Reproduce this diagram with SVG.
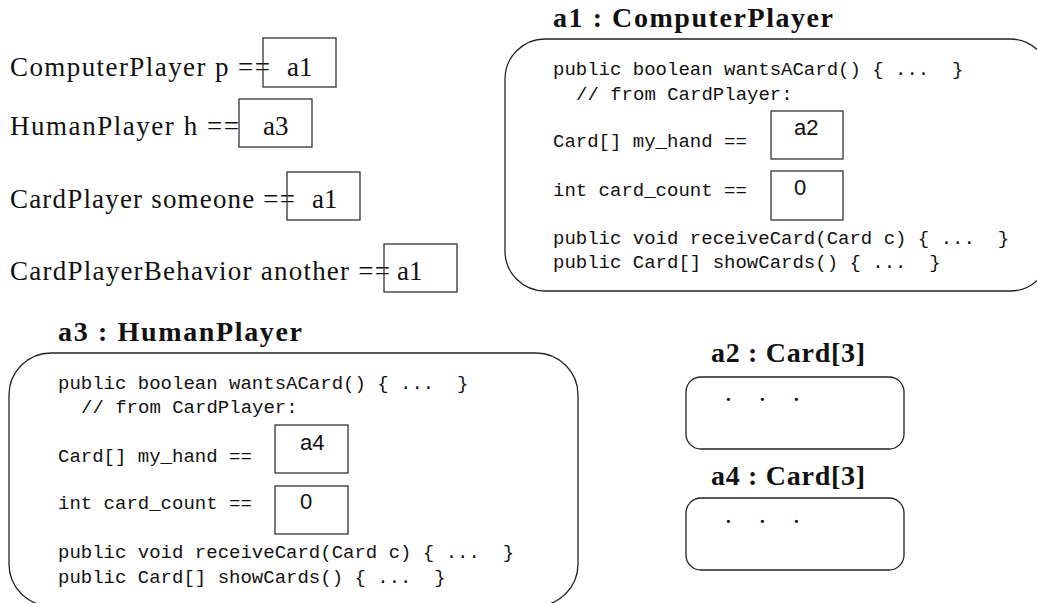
<svg xmlns="http://www.w3.org/2000/svg" width="1037" height="603" viewBox="0 0 1037 603">
<style>
.sr{font-family:"Liberation Serif","Times New Roman",serif;font-size:27px;fill:#111}
.bt{font-family:"Liberation Serif","Times New Roman",serif;font-size:28px;font-weight:bold;fill:#111}
.mo{font-family:"Liberation Mono","Courier New",monospace;font-size:19px;fill:#111;white-space:pre}
.sa{font-family:"Liberation Sans",Arial,sans-serif;font-size:22px;fill:#111}
.box{fill:none;stroke:#333;stroke-width:1.3}
.obj{fill:none;stroke:#222;stroke-width:1.3}
</style>
<rect width="1037" height="603" fill="#fff"/>
<g id="var-p">
<text class="sr" x="10" y="76" textLength="260">ComputerPlayer p ==</text>
<rect class="box" x="263" y="38" width="73" height="49"/>
<text class="sr" x="287" y="76">a1</text>
</g>
<g id="var-h">
<text class="sr" x="10" y="135" textLength="229">HumanPlayer h ==</text>
<rect class="box" x="239" y="99" width="73" height="48"/>
<text class="sr" x="263" y="135">a3</text>
</g>
<g id="var-someone">
<text class="sr" x="10" y="208" textLength="285">CardPlayer someone ==</text>
<rect class="box" x="287" y="172" width="73" height="48"/>
<text class="sr" x="312" y="208">a1</text>
</g>
<g id="var-another">
<text class="sr" x="10" y="280" textLength="380">CardPlayerBehavior another ==</text>
<rect class="box" x="384" y="244" width="73" height="48"/>
<text class="sr" x="397" y="280">a1</text>
</g>
<g id="obj-a1">
<text class="bt" x="553" y="27" textLength="280">a1 : ComputerPlayer</text>
<rect class="obj" x="505" y="39" width="545" height="252" rx="40" ry="40"/>
<text class="mo" x="553" y="75">public boolean wantsACard() { ...  }</text>
<text class="mo" x="576" y="100">// from CardPlayer:</text>
<text class="mo" x="553" y="147">Card[] my_hand ==</text>
<rect class="box" x="771" y="111" width="72" height="48"/>
<text class="sa" x="794" y="135">a2</text>
<text class="mo" x="553" y="196">int card_count ==</text>
<rect class="box" x="771" y="171" width="72" height="49"/>
<text class="sa" x="794" y="195">0</text>
<text class="mo" x="553" y="244">public void receiveCard(Card c) { ...  }</text>
<text class="mo" x="553" y="268">public Card[] showCards() { ...  }</text>
</g>
<g id="obj-a3">
<text class="bt" x="58" y="341" textLength="244">a3 : HumanPlayer</text>
<rect class="obj" x="9" y="353" width="569" height="253" rx="42" ry="42"/>
<text class="mo" x="58" y="389">public boolean wantsACard() { ...  }</text>
<text class="mo" x="81" y="413">// from CardPlayer:</text>
<text class="mo" x="58" y="462">Card[] my_hand ==</text>
<rect class="box" x="275" y="425" width="73" height="48"/>
<text class="sa" x="300" y="450">a4</text>
<text class="mo" x="58" y="509">int card_count ==</text>
<rect class="box" x="275" y="486" width="73" height="48"/>
<text class="sa" x="300" y="509">0</text>
<text class="mo" x="58" y="558">public void receiveCard(Card c) { ...  }</text>
<text class="mo" x="58" y="583">public Card[] showCards() { ...  }</text>
</g>
<g id="arr-a2">
<text class="bt" x="711" y="362" textLength="154">a2 : Card[3]</text>
<rect class="obj" x="686" y="377" width="218" height="72" rx="15" ry="15"/>
<text class="sr" x="725 759 793" y="401">...</text>
</g>
<g id="arr-a4">
<text class="bt" x="711" y="485" textLength="154">a4 : Card[3]</text>
<rect class="obj" x="686" y="498" width="218" height="72" rx="15" ry="15"/>
<text class="sr" x="725 759 793" y="523">...</text>
</g>
<g id="connectors"/>
</svg>
